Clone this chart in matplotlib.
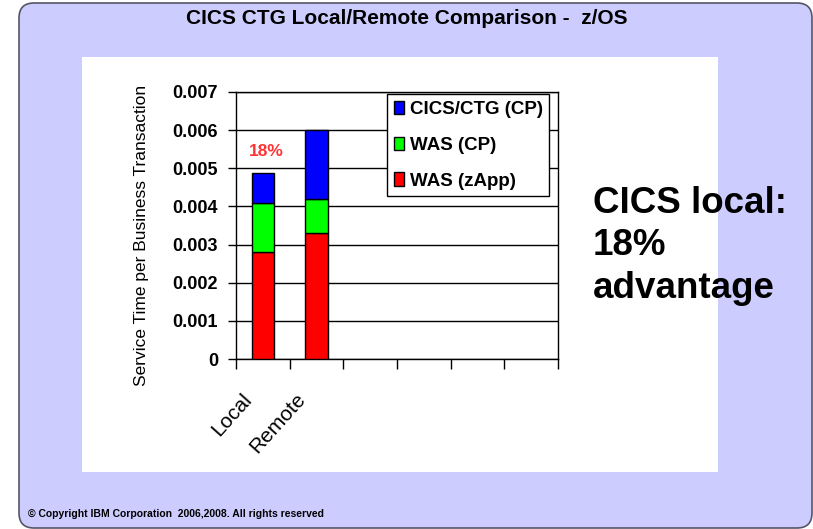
import matplotlib
matplotlib.use("Agg")
import matplotlib.pyplot as plt
from matplotlib.patches import FancyBboxPatch, Rectangle
import matplotlib.transforms as mtransforms
import numpy as np

plt.rcParams['font.family'] = ['Liberation Sans', 'DejaVu Sans']

# ---- data ----
categories = ['Local', 'Remote', '', '', '', '']
was_zapp = [0.0028, 0.0033, 0, 0, 0, 0]
was_cp = [0.0013, 0.0009, 0, 0, 0, 0]
cics_ctg_cp = [0.00078, 0.0018, 0, 0, 0, 0]
series_names = ['WAS (zApp)', 'WAS (CP)', 'CICS/CTG (CP)']
series_colors = ['#FF0000', '#00FF00', '#0000FF']
ytick_values = [0, 0.001, 0.002, 0.003, 0.004, 0.005, 0.006, 0.007]
ytick_labels = ['0', '0.001', '0.002', '0.003', '0.004', '0.005', '0.006', '0.007']
title = 'CICS CTG Local/Remote Comparison -  z/OS'
ylabel = 'Service Time per Business Transaction'
annotation = '18%'
side_note = 'CICS local:\n18%\nadvantage'
copyright_text = '\u00a9 Copyright IBM Corporation  2006,2008. All rights reserved'

W, H = 813, 529
fig = plt.figure(figsize=(W / 100, H / 100), dpi=100)
fig.patch.set_facecolor('white')

# background panel (inches coordinates)
inch = fig.dpi_scale_trans
panel = FancyBboxPatch((0.19, 0.01), 7.93, 5.25,
                       boxstyle='round,pad=0,rounding_size=0.15',
                       transform=inch, facecolor='#CCCCFF', edgecolor='#555566',
                       linewidth=1.2, zorder=-2)
fig.patches.append(panel)
white = Rectangle((0.82, (H - 472) / 100), (718 - 82) / 100, (472 - 57) / 100,
                  transform=inch, facecolor='white', edgecolor='none', zorder=-1)
fig.patches.append(white)

# axes
left, right, top, bottom = 236, 558, 92, 359
ax = fig.add_axes([left / W, (H - bottom) / H, (right - left) / W, (bottom - top) / H])
ax.set_facecolor('white')

x = np.arange(len(categories))
bw = 0.41
b1 = ax.bar(x, was_zapp, bw, color=series_colors[0], edgecolor='black', linewidth=1, zorder=3,
            label=series_names[0])
bottom2 = np.array(was_zapp)
b2 = ax.bar(x, was_cp, bw, bottom=bottom2, color=series_colors[1], edgecolor='black',
            linewidth=1, zorder=3, label=series_names[1])
bottom3 = bottom2 + np.array(was_cp)
b3 = ax.bar(x, cics_ctg_cp, bw, bottom=bottom3, color=series_colors[2], edgecolor='black',
            linewidth=1, zorder=3, label=series_names[2])
# hide zero-height bars
for bars in (b1, b2, b3):
    for r in bars:
        if r.get_height() == 0:
            r.set_visible(False)

ax.set_xlim(-0.5, len(categories) - 0.5)
ax.set_ylim(0, 0.007)
ax.set_yticks(ytick_values)
ax.set_yticklabels(ytick_labels, fontsize=13, fontweight='bold')
ax.yaxis.grid(True, color='black', linewidth=1, zorder=1)
ax.set_axisbelow(True)
ax.tick_params(axis='y', direction='out', length=6, width=1, pad=7)

ax.set_xticks(np.arange(-0.5, len(categories), 1.0))
ax.set_xticklabels([])
ax.tick_params(axis='x', which='major', direction='out', length=7, width=1)
ax.set_xticks(x, minor=True)
ax.set_xticklabels(categories, minor=True, rotation=48, ha='right', fontsize=15)
ax.tick_params(axis='x', which='minor', length=0, pad=22)
offset = mtransforms.ScaledTranslation(-7 / 100, 0, fig.dpi_scale_trans)
for lab in ax.xaxis.get_minorticklabels():
    lab.set_transform(lab.get_transform() + offset)

for sp in ax.spines.values():
    sp.set_color('black')
    sp.set_linewidth(1)

ax.set_ylabel(ylabel, fontsize=12.5)
ax.yaxis.set_label_coords(-0.27, 0.464)

handles = [b3, b2, b1]
leg = ax.legend(handles, [series_names[2], series_names[1], series_names[0]],
                loc='upper left', bbox_to_anchor=(0.469, 0.992), fancybox=False,
                framealpha=1, edgecolor='black', prop={'size': 13.5, 'weight': 'bold'},
                handlelength=0.55, handleheight=0.7, handletextpad=0.3,
                labelspacing=1.0, borderpad=0.35, borderaxespad=0)
leg.get_frame().set_linewidth(1)
leg.set_zorder(5)

ax.text(x[0] + 0.07, 0.00543, annotation, color='#FF3333', fontsize=12.5, fontweight='bold',
        ha='center', va='center')

fig.text(407 / W, 1 - 19 / H, title, fontsize=15, fontweight='bold', ha='center', va='center')
fig.text(593 / W, 1 - 186 / H, side_note, fontsize=26.5, fontweight='bold', ha='left', va='top',
         linespacing=1.27)
fig.text(28 / W, 1 - 514 / H, copyright_text, fontsize=7.5, fontweight='bold', ha='left',
         va='center')

fig.savefig('out.png', dpi=100)
